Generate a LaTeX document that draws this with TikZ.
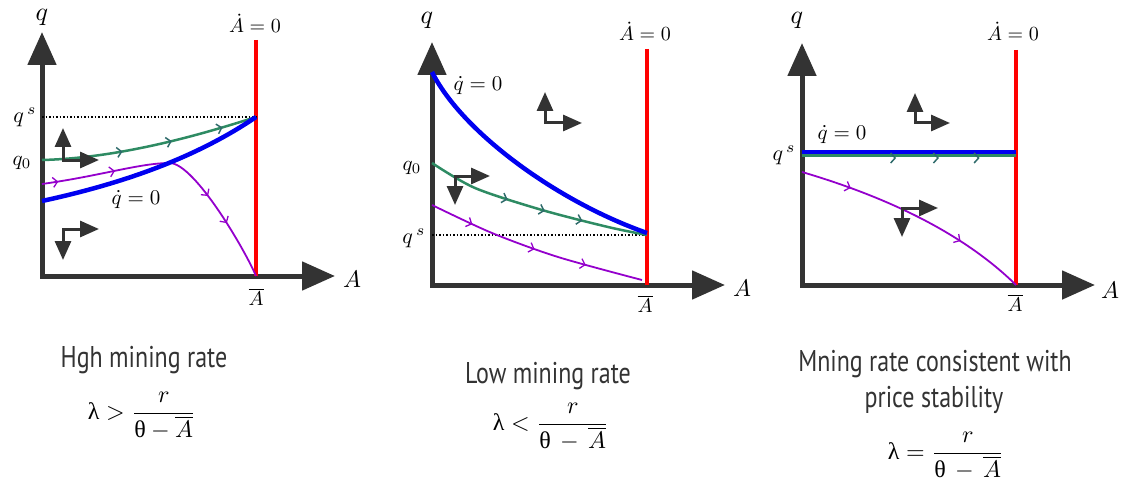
\documentclass[tikz,border=0pt]{standalone}
\usepackage{graphicx}
\usepackage{fontspec}
\usetikzlibrary{arrows.meta,decorations.markings}
\newfontfamily\grk{Liberation Serif}
\newfontfamily\capfont[FakeStretch=0.8]{PT Sans}
\definecolor{axisgray}{HTML}{333333}
\definecolor{curveblue}{HTML}{0000F0}
\definecolor{curvered}{HTML}{FF0000}
\definecolor{curvegreen}{HTML}{2E8B63}
\definecolor{curvepurple}{HTML}{9400CC}
\definecolor{chevgreen}{HTML}{2F6B6B}
\definecolor{captext}{HTML}{333333}
\newcommand{\glam}{\mbox{\grk λ}}
\newcommand{\gthe}{\mbox{\grk θ}}
\newcommand{\sm}[2]{\scalebox{#1}{$#2$}}
\tikzset{
  gtip/.tip={Straight Barb[length=4.5pt,width=10pt,line width=1.5pt,color=chevgreen]},
  ptip/.tip={Straight Barb[length=4.5pt,width=10pt,line width=1.3pt,color=curvepurple]}
}
\begin{document}
\begin{tikzpicture}[x=1pt,y=-1pt,
  axis/.style={draw=axisgray,line width=5pt,line cap=rect,-{Triangle[length=33pt,width=28pt]}},
  dirarrow/.style={draw=axisgray,line width=3pt,line cap=rect,-{Triangle[length=19pt,width=16pt]}},
  nullA/.style={draw=curvered,line width=4.5pt},
  nullq/.style={draw=curveblue,line width=4.5pt},
  pathgreen/.style={draw=curvegreen,line width=2.5pt},
  pathpurple/.style={draw=curvepurple,line width=1.8pt},
  dotline/.style={draw=black,line width=1.5pt,dash pattern=on 1.5pt off 2pt},
  lab/.style={inner sep=0pt},
  captxt/.style={inner sep=0pt,text=captext,font=\capfont\fontsize{30}{33}\selectfont},
  formula/.style={inner sep=0pt}
]
\useasboundingbox (0,0) rectangle (1124,492);

% ================= Panel 1 =================
\coordinate (o1) at (42,276);
\coordinate (qy1) at (42,32);
\coordinate (ax1) at (335,276);
\draw[axis] (o1) -- (qy1);
\draw[axis] (o1) -- (ax1);
\coordinate (rt1) at (256,40);
\coordinate (rb1) at (256,276);
\draw[nullA] (rt1) -- (rb1);
\coordinate (ds1) at (42,117);
\coordinate (ss1) at (256,117);
\draw[dotline] (ds1) -- (ss1);
\coordinate (g1s) at (42,160);
\draw[pathgreen,postaction={decorate},decoration={markings,
   mark=at position 0.37 with {\arrow{gtip}},
   mark=at position 0.60 with {\arrow{gtip}},
   mark=at position 0.84 with {\arrow{gtip}}}]
  (g1s) .. controls (120,158) and (200,135) .. (ss1);
\coordinate (p1s) at (42,184);
\coordinate (p1h) at (170,163);
\draw[pathpurple,postaction={decorate},decoration={markings,
   mark=at position 0.06 with {\arrow{ptip}},
   mark=at position 0.27 with {\arrow{ptip}},
   mark=at position 0.66 with {\arrow{ptip}},
   mark=at position 0.78 with {\arrow{ptip}}}]
  (p1s) .. controls (100,176) and (140,163) .. (p1h)
        .. controls (195,164) and (245,250) .. (rb1);
\coordinate (b1s) at (42,201);
\draw[nullq] (b1s) .. controls (130,182) and (200,155) .. (ss1);
\coordinate (c1a) at (63,160);
\coordinate (u1a) at (63,128);
\coordinate (r1a) at (99,160);
\draw[dirarrow] (c1a) -- (u1a);
\draw[dirarrow] (c1a) -- (r1a);
\coordinate (c1b) at (63,229);
\coordinate (d1b) at (63,260);
\coordinate (r1b) at (99,229);
\draw[dirarrow] (c1b) -- (d1b);
\draw[dirarrow] (c1b) -- (r1b);
\node[lab] (q1) at (42,17) {\sm{2.6}{q}};
\node[lab] (A1) at (352,279) {\sm{2.4}{A}};
\node[lab] (Ad1) at (255,23) {\sm{2.0}{\dot{A}=0}};
\node[lab] (Ab1) at (256,297) {\sm{2.0}{\overline{A}}};
\node[lab] (qs1) at (25,117) {\sm{2.2}{q^{\,s}}};
\node[lab] (q01) at (22,163) {\sm{2.1}{q_0}};
\node[lab] (qd1) at (136,200) {\sm{2.1}{\dot{q}=0}};

% ================= Panel 2 =================
\coordinate (o2) at (432,285);
\coordinate (qy2) at (432,42);
\coordinate (ax2) at (725,285);
\draw[axis] (o2) -- (qy2);
\draw[axis] (o2) -- (ax2);
\coordinate (rt2) at (647,49);
\coordinate (rb2) at (647,285);
\draw[nullA] (rt2) -- (rb2);
\coordinate (ds2) at (432,235);
\coordinate (ss2) at (647,235);
\draw[dotline] (ds2) -- (ss2);
\draw[pathgreen,postaction={decorate},decoration={markings,
   mark=at position 0.37 with {\arrow{gtip}},
   mark=at position 0.54 with {\arrow{gtip}},
   mark=at position 0.71 with {\arrow{gtip}}}]
  plot[smooth] coordinates {(432,163) (475,188) (542,210) (608,227) (647,235)};
\draw[pathpurple,postaction={decorate},decoration={markings,
   mark=at position 0.20 with {\arrow{ptip}},
   mark=at position 0.50 with {\arrow{ptip}},
   mark=at position 0.74 with {\arrow{ptip}}}]
  plot[smooth] coordinates {(432,205) (492,233) (558,257) (642,280)};
\coordinate (b2s) at (432,72);
\coordinate (b2e) at (647,233);
\draw[nullq] (b2s) .. controls (462,132) and (557,201.5) .. (b2e);
\coordinate (c2a) at (545,123);
\coordinate (u2a) at (545,92);
\coordinate (r2a) at (582,123);
\draw[dirarrow] (c2a) -- (u2a);
\draw[dirarrow] (c2a) -- (r2a);
\coordinate (c2b) at (455,176);
\coordinate (d2b) at (455,205);
\coordinate (r2b) at (490,176);
\draw[dirarrow] (c2b) -- (d2b);
\draw[dirarrow] (c2b) -- (r2b);
\node[lab] (q2) at (427,20) {\sm{2.6}{q}};
\node[lab] (A2) at (742,288) {\sm{2.4}{A}};
\node[lab] (Ad2) at (645,31) {\sm{2.0}{\dot{A}=0}};
\node[lab] (Ab2) at (645,304) {\sm{2.0}{\overline{A}}};
\node[lab] (qs2) at (414,238) {\sm{2.2}{q^{\,s}}};
\node[lab] (q02) at (412,168) {\sm{2.1}{q_0}};
\node[lab] (qd2) at (478,86) {\sm{2.1}{\dot{q}=0}};

% ================= Panel 3 =================
\coordinate (o3) at (802,285);
\coordinate (qy3) at (802,43);
\coordinate (ax3) at (1095,285);
\draw[axis] (o3) -- (qy3);
\draw[axis] (o3) -- (ax3);
\coordinate (rt3) at (1016,50);
\coordinate (rb3) at (1016,285);
\draw[nullA] (rt3) -- (rb3);
\coordinate (p3s) at (802,172);
\draw[pathpurple,postaction={decorate},decoration={markings,
   mark=at position 0.21 with {\arrow{ptip}},
   mark=at position 0.71 with {\arrow{ptip}}}]
  (p3s) .. controls (880,195) and (960,230) .. (rb3);
\coordinate (gl3) at (802,155.5);
\coordinate (gr3) at (1016,155.5);
\draw[pathgreen] (gl3) -- (gr3);
\coordinate (bl3) at (802,152);
\coordinate (br3) at (1016,152);
\draw[nullq,line width=4pt] (bl3) -- (br3);
\coordinate (gcl3) at (802,158);
\coordinate (gcr3) at (1016,158);
\path[postaction={decorate},decoration={markings,
   mark=at position 0.44 with {\arrow{gtip}},
   mark=at position 0.64 with {\arrow{gtip}},
   mark=at position 0.83 with {\arrow{gtip}}}]
  (gcl3) -- (gcr3);
\coordinate (c3a) at (915,123);
\coordinate (u3a) at (915,93);
\coordinate (r3a) at (950,123);
\draw[dirarrow] (c3a) -- (u3a);
\draw[dirarrow] (c3a) -- (r3a);
\coordinate (c3b) at (902,208);
\coordinate (d3b) at (902,237);
\coordinate (r3b) at (938,208);
\draw[dirarrow] (c3b) -- (d3b);
\draw[dirarrow] (c3b) -- (r3b);
\node[lab] (q3) at (797,20) {\sm{2.6}{q}};
\node[lab] (A3) at (1110,290) {\sm{2.4}{A}};
\node[lab] (Ad3) at (1013,31) {\sm{2.0}{\dot{A}=0}};
\node[lab] (Ab3) at (1015,303) {\sm{2.0}{\overline{A}}};
\node[lab] (qs3) at (784,155) {\sm{2.2}{q^{\,s}}};
\node[lab] (qd3) at (842,135) {\sm{2.1}{\dot{q}=0}};

% ================= Captions =================
\node[captxt] (cap1) at (144,360) {Hgh mining rate};
\node[formula] (f1) at (142,416) {\sm{2.4}{\glam > \displaystyle\frac{r}{\gthe-\overline{A}}}};
\node[captxt] (cap2) at (548,376) {Low mining rate};
\node[formula] (f2) at (551,427) {\sm{2.4}{\glam < \displaystyle\frac{r}{\gthe\,-\,\overline{A}}}};
\node[captxt] (cap3a) at (935,364) {Mning rate consistent with};
\node[captxt] (cap3b) at (934,400) {price stability};
\node[formula] (f3) at (946,456) {\sm{2.4}{\glam = \displaystyle\frac{r}{\gthe\,-\,\overline{A}}}};
\end{tikzpicture}
\end{document}
